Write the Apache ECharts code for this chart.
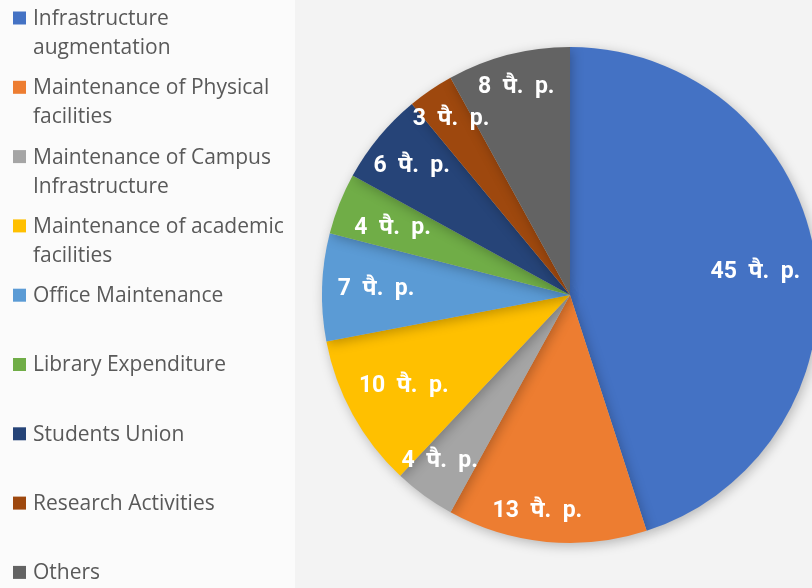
<!DOCTYPE html>
<html>
<head>
<meta charset="utf-8">
<script src="https://cdn.jsdelivr.net/npm/echarts@6/dist/echarts.min.js"></script>
<style>
html,body{margin:0;padding:0;background:#fafafa;}
#c{width:812px;height:588px;}
</style>
</head>
<body>
<div id="c"></div>
<script>
const categories = [
  "Infrastructure\naugmentation",
  "Maintenance of Physical\nfacilities",
  "Maintenance of Campus\nInfrastructure",
  "Maintenance of academic\nfacilities",
  "Office Maintenance",
  "Library Expenditure",
  "Students Union",
  "Research Activities",
  "Others"
];
const values = [45, 13, 4, 10, 7, 4, 6, 3, 8];
const colors = ["#4472C4", "#ED7D31", "#A5A5A5", "#FFC000", "#5B9BD5", "#70AD47", "#264478", "#9E480E", "#636363"];
const unitSuffix = "  पै.  p.";

// small nudges of the in-slice labels (layout only)
const labelNudge = [[-20, 10], [-13, 9], [-8, -2], [16, -9], [14, 1], [16, 10], [2, 4], [-2, -4], [-2, -6]];

const chart = echarts.init(document.getElementById('c'), null, {renderer: 'canvas'});

const legendFont = '"Open Sans", "Noto Sans", sans-serif';
const legendGraphics = [];
categories.forEach((name, i) => {
  const cy = 18 + i * 69.3;
  legendGraphics.push({
    type: 'rect', left: 13, top: cy - 6.5,
    shape: {width: 13, height: 13},
    style: {fill: colors[i]}
  });
  legendGraphics.push({
    type: 'text', left: 33, top: cy - 13.5,
    style: {text: name, fill: '#595959', font: '21px ' + legendFont, lineHeight: 29}
  });
});

const pieData = categories.map((n, i) => ({name: n, value: values[i], itemStyle: {color: colors[i]}}));

chart.setOption({
  backgroundColor: '#fbfbfb',
  animation: false,
  graphic: [
    {type: 'rect', left: 295, top: 0, z: -10, shape: {width: 517, height: 588}, style: {fill: '#f3f3f3'}}
  ].concat(legendGraphics),
  series: [
    {
      type: 'pie',
      center: [570, 295],
      radius: [0, 248],
      startAngle: 90,
      clockwise: true,
      silent: true,
      data: pieData,
      label: {show: false},
      labelLine: {show: false},
      itemStyle: {shadowBlur: 12, shadowColor: 'rgba(0,0,0,0.25)', shadowOffsetX: 2, shadowOffsetY: 3}
    },
    {
      type: 'pie',
      center: [570, 295],
      radius: [0, 410],
      startAngle: 90,
      clockwise: true,
      silent: true,
      z: 5,
      data: categories.map((n, i) => ({name: n, value: values[i]})),
      itemStyle: {color: 'rgba(0,0,0,0)'},
      label: {
        show: true, position: 'inside',
        formatter: p => p.value + unitSuffix,
        color: '#ffffff', fontSize: 23, fontWeight: 'bold',
        fontFamily: 'Roboto, "Noto Sans", sans-serif'
      },
      labelLine: {show: false},
      labelLayout: p => ({dx: labelNudge[p.dataIndex][0], dy: labelNudge[p.dataIndex][1]})
    }
  ]
});
</script>
</body>
</html>
